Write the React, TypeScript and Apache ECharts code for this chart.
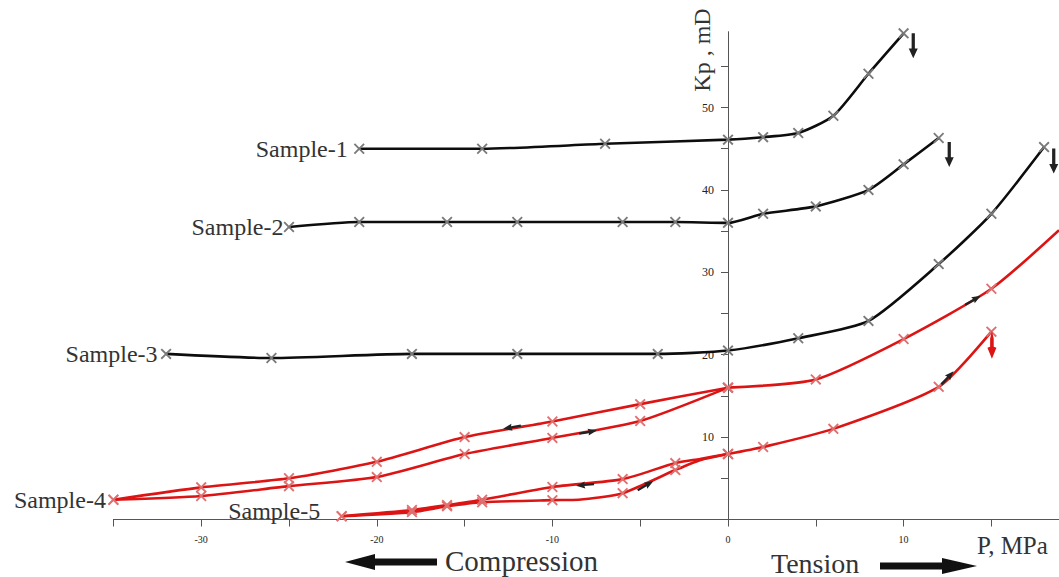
import React, { useEffect, useRef } from 'react';
import * as echarts from 'echarts';

// ---------- DATA ----------
const sampleNames = ['Sample-1', 'Sample-2', 'Sample-3', 'Sample-4', 'Sample-5'];

// [P (MPa), Kp (mD), marker shown 1/0]
const sample1 = [[-21, 45.0, 1], [-14, 45.0, 1], [-7, 45.6, 1], [0, 46.1, 1], [2, 46.4, 1], [4, 46.9, 1], [6, 49.0, 1], [8, 54.1, 1], [10, 59.0, 1]];
const sample2 = [[-25, 35.5, 1], [-21, 36.1, 1], [-16, 36.1, 1], [-12, 36.1, 1], [-6, 36.1, 1], [-3, 36.1, 1], [0, 36.0, 1], [2, 37.1, 1], [5, 38.0, 1], [8, 40.0, 1], [10, 43.1, 1], [12, 46.3, 1]];
const sample3 = [[-32, 20.1, 1], [-26, 19.6, 1], [-18, 20.1, 1], [-12, 20.1, 1], [-4, 20.1, 1], [0, 20.5, 1], [4, 22.0, 1], [8, 24.1, 1], [12, 31.0, 1], [15, 37.1, 1], [18, 45.2, 1]];

const sample4Unload = [[-35, 2.4, 1], [-30, 3.9, 1], [-25, 5.0, 1], [-20, 7.0, 1], [-15, 10.0, 1], [-10, 11.9, 1], [-5, 14.0, 1], [0, 16.0, 1]];
const sample4Load = [[-35, 2.4, 1], [-30, 2.85, 1], [-25, 4.05, 1], [-20, 5.15, 1], [-15, 7.95, 1], [-10, 9.9, 1], [-5, 11.95, 1], [0, 16.0, 1]];
const sample4Tension = [[0, 16.0, 1], [5, 17.0, 1], [10, 21.9, 1], [15, 28.0, 1], [18.85, 35.1, 0]];

const sample5Unload = [[-22, 0.4, 1], [-18, 1.15, 1], [-16, 1.75, 1], [-14, 2.4, 1], [-10, 3.95, 1], [-6, 4.9, 1], [-3, 6.85, 1], [-1.6, 7.35, 0], [0, 7.95, 1]];
const sample5Load = [[-22, 0.4, 1], [-18, 0.9, 1], [-16, 1.6, 1], [-14, 2.1, 1], [-10, 2.35, 1], [-8.5, 2.4, 0], [-6, 3.2, 1], [-3, 6.0, 1], [-1.6, 7.2, 0], [0, 7.95, 1]];
const sample5Tension = [[0, 7.95, 1], [2, 8.8, 1], [6, 11.0, 1], [12, 16.1, 1], [15, 22.8, 1]];

// direction arrows [P, Kp, rotation deg]
const blackDownArrows = [[10.55, 57.5, 180], [12.6, 44.3, 180], [18.55, 43.5, 180]];
const pathArrows4 = [[-12.3, 11.2, 100], [-7.97, 10.6, -80], [13.95, 26.6, -60]];
const pathArrows5 = [[-8.14, 4.2, 95], [-4.7, 4.1, -60], [12.5, 17.2, -43]];
const redDownArrows = [[15.03, 21.2, 0], [18.9, 33.0, 0]];

const xTickValues = [-35, -30, -25, -20, -15, -10, -5, 0, 5, 10, 15];
const xLabelValues = [-30, -20, -10, 0, 10];
const yTickValues = [5, 10, 15, 20, 25, 30, 35, 40, 45, 50, 55];
const yLabelValues = [10, 20, 30, 40, 50];

const X_MIN = -35;
const X_MAX = 18.85;
const Y_MAX = 59.2;

// ---------- STYLE ----------
const SERIF = '"Liberation Serif", "DejaVu Serif", serif';
const CROSS = 'path://M0,1.2L1.2,0L5,3.8L8.8,0L10,1.2L6.2,5L10,8.8L8.8,10L5,6.2L1.2,10L0,8.8L3.8,5Z';
const BLOCK_ARROW = 'path://M5,0L10,10L6.8,10L6.8,26L3.2,26L3.2,10L0,10Z';
const DART = 'path://M3,0L6,9L4,8.2L4,18L2,18L2,8.2L0,9Z';
const RED_ARROW = 'path://M5,0L7,8L7,16L10,17L5,28L0,17L3,16L3,8Z';
const BLACK = '#0d0d0d';
const RED = '#dc1414';

const GRID_LEFT = 113.4;
const GRID_RIGHT = 0;
const CHART_W = 1059;

function App() {
  const ref = useRef<HTMLDivElement>(null);
  useEffect(() => {
    if (!ref.current) return;
    const chart = echarts.init(ref.current, undefined, { renderer: 'svg' });

    const gridW = CHART_W - GRID_LEFT - GRID_RIGHT;
    const yAxisOffset = -((0 - X_MIN) / (X_MAX - X_MIN)) * gridW;

    const toData = (arr: number[][], labelIdx?: number, labelOpts?: any) =>
      arr.map((p, i) => {
        const item: any = { value: [p[0], p[1]], symbol: p[2] ? CROSS : 'none' };
        if (labelIdx !== undefined && i === 0) {
          item.label = {
            show: true,
            position: 'left',
            formatter: sampleNames[labelIdx],
            fontFamily: SERIF,
            fontSize: 24,
            color: '#333',
            ...labelOpts,
          };
        }
        return item;
      });

    const mk = (arr: number[][], symbol: string, size: number[], color: string) =>
      arr.map((a) => ({
        coord: [a[0], a[1]],
        symbol,
        symbolSize: size,
        symbolRotate: a[2],
        symbolKeepAspect: false,
        itemStyle: { color },
      }));

    const line = (name: string, data: any[], color: string, markerColor: string, markPointData?: any[]) => ({
      type: 'line',
      name,
      data,
      smooth: 0.22,
      symbol: CROSS,
      symbolSize: 11,
      showSymbol: true,
      lineStyle: { color, width: 2.6 },
      itemStyle: { color: markerColor },
      emphasis: { disabled: true },
      silent: true,
      markPoint: markPointData
        ? { data: markPointData, label: { show: false }, silent: true, animation: false }
        : undefined,
    });

    const blackMarker = '#7a7a7a';
    const redMarker = '#e07070';

    chart.setOption({
      animation: false,
      grid: { left: GRID_LEFT, right: GRID_RIGHT, top: 31.7, bottom: 57.5 },
      xAxis: {
        type: 'value',
        min: X_MIN,
        max: X_MAX,
        interval: 5,
        axisLine: { lineStyle: { color: '#555', width: 1 } },
        axisTick: { show: true, length: 7, customValues: xTickValues, lineStyle: { color: '#555' } },
        axisLabel: {
          customValues: xLabelValues,
          margin: 15,
          fontSize: 10,
          fontFamily: SERIF,
          color: '#222',
        },
        splitLine: { show: false },
      },
      yAxis: {
        type: 'value',
        min: 0,
        max: Y_MAX,
        interval: 5,
        position: 'left',
        offset: yAxisOffset,
        axisLine: { show: true, onZero: false, lineStyle: { color: '#555', width: 1 } },
        axisTick: { show: true, length: 7, customValues: yTickValues, lineStyle: { color: '#555' } },
        axisLabel: {
          customValues: yLabelValues,
          margin: 14,
          fontSize: 12,
          fontFamily: SERIF,
          color: '#222',
        },
        splitLine: { show: false },
      },
      series: [
        line('s1', toData(sample1, 0, { distance: 6 }), BLACK, blackMarker, mk([blackDownArrows[0]], BLOCK_ARROW, [9, 25], '#222')),
        line('s2', toData(sample2, 1, { distance: 0 }), BLACK, blackMarker, mk([blackDownArrows[1]], BLOCK_ARROW, [9, 25], '#222')),
        line('s3', toData(sample3, 2, { distance: 3 }), BLACK, blackMarker, mk([blackDownArrows[2]], BLOCK_ARROW, [9, 25], '#222')),
        line('s4u', toData(sample4Unload, 3, { distance: 2 }), RED, redMarker, mk(pathArrows4, DART, [7, 18], '#222')),
        line('s4l', toData(sample4Load), RED, redMarker),
        line('s4t', toData(sample4Tension), RED, redMarker, mk([redDownArrows[1]], RED_ARROW, [9, 28], RED)),
        line('s5u', toData(sample5Unload, 4, { distance: 16, offset: [0, -5] }), RED, redMarker, mk(pathArrows5, DART, [7, 18], '#222')),
        line('s5l', toData(sample5Load), RED, redMarker),
        line('s5t', toData(sample5Tension), RED, redMarker, mk([redDownArrows[0]], RED_ARROW, [9, 28], RED)),
      ],
      graphic: [
        {
          type: 'text',
          x: 702,
          y: 50,
          rotation: Math.PI / 2,
          style: { text: 'Kp , mD', fontFamily: SERIF, fontSize: 24, fill: '#333', align: 'center', verticalAlign: 'middle' },
        },
        {
          type: 'text',
          x: 977,
          y: 545,
          style: { text: 'P, MPa', fontFamily: SERIF, fontSize: 25, fill: '#333', align: 'left', verticalAlign: 'middle' },
        },
        {
          type: 'text',
          x: 445,
          y: 561,
          style: { text: 'Compression', fontFamily: SERIF, fontSize: 29, fill: '#333', align: 'left', verticalAlign: 'middle' },
        },
        {
          type: 'text',
          x: 771,
          y: 563,
          style: { text: 'Tension', fontFamily: SERIF, fontSize: 28, fill: '#333', align: 'left', verticalAlign: 'middle' },
        },
        {
          type: 'polygon',
          shape: { points: [[345, 562], [375, 554], [375, 558.5], [437, 558.5], [437, 565.5], [375, 565.5], [375, 570]] },
          style: { fill: '#111' },
        },
        {
          type: 'polygon',
          shape: { points: [[880, 562.5], [942, 562.5], [942, 558], [977, 566], [942, 574], [942, 569.5], [880, 569.5]] },
          style: { fill: '#111' },
        },
      ],
    });
    return () => chart.dispose();
  }, []);
  return <div ref={ref} style={{ position: 'fixed', left: 0, top: 0, width: 1059, height: 577, background: '#fff' }} />;
}

export default App;
